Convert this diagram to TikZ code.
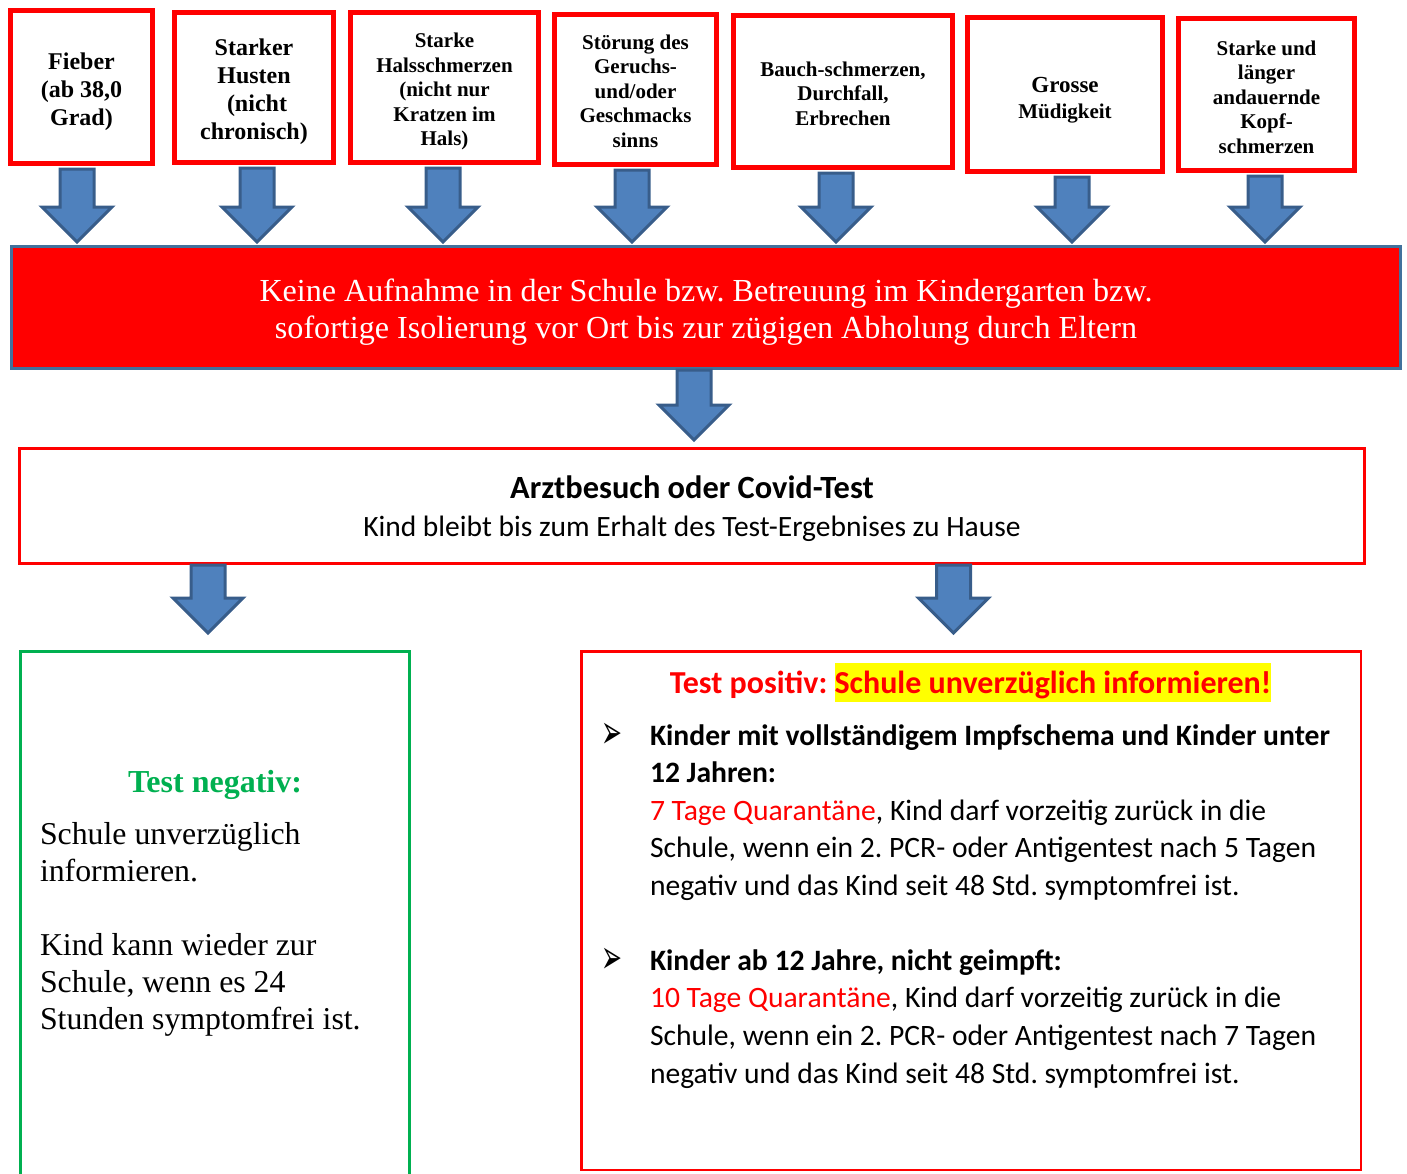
\documentclass[tikz,border=0pt]{standalone}
\usepackage{fontspec}
\usepackage{graphicx}
\setmainfont{Liberation Serif}
\newfontfamily\calfont{Carlito}
\newfontfamily\dvfont{DejaVu Sans}
\usetikzlibrary{calc}
\frenchspacing
\definecolor{boxred}{HTML}{FF0000}
\definecolor{arrowfill}{HTML}{4F81BD}
\definecolor{arrowdraw}{HTML}{385D8A}
\definecolor{bannerdraw}{HTML}{41719C}
\definecolor{boxgreen}{HTML}{00B050}
\definecolor{hlyellow}{HTML}{FFFF00}
\tikzset{
  symbox/.style={draw=boxred, line width=5pt, fill=white, inner sep=0pt},
  symtext/.style={align=center, inner sep=0pt, font=\fontsize{21}{24.5}\selectfont\bfseries},
  bigsym/.style={font=\fontsize{24}{28}\selectfont\bfseries},
  blockarrow/.style={fill=arrowfill, draw=arrowdraw, line width=3pt, line join=miter},
  plainbox/.style={inner sep=0pt},
  txt/.style={inner sep=0pt, outer sep=0pt},
  bullet/.style={txt, anchor=base west, font=\dvfont\fontsize{25}{25}\selectfont},
}
\newcommand\barrow[2]{%
  \draw[blockarrow] let \p1=(#1), \p2=(#2) in
    (\x1-17pt,\y1) -- (\x1-17pt,\y2+35pt) -- (\x1-35pt,\y2+35pt) -- (\x1,\y2)
    -- (\x1+35pt,\y2+35pt) -- (\x1+17pt,\y2+35pt) -- (\x1+17pt,\y1) -- cycle;}
\begin{document}
\begin{tikzpicture}[x=1pt,y=-1pt]
\useasboundingbox (0,0) rectangle (1407,1173);
% symptom boxes
\node[symbox, minimum width=142pt, minimum height=153pt] (f1) at (81.5,87) {};
\node[symbox, minimum width=159pt, minimum height=150pt] (f2) at (254,87.5) {};
\node[symbox, minimum width=188pt, minimum height=150pt] (f3) at (444.5,87.5) {};
\node[symbox, minimum width=162pt, minimum height=150pt] (f4) at (635.5,89.5) {};
\node[symbox, minimum width=219pt, minimum height=152pt] (f5) at (843,91.5) {};
\node[symbox, minimum width=195pt, minimum height=154pt] (f6) at (1065,94.5) {};
\node[symbox, minimum width=176pt, minimum height=152pt] (f7) at (1266.5,94.5) {};
\node[symtext, bigsym] (t1) at ([yshift=-5pt]f1.center) {Fieber\\(ab 38,0\\Grad)};
\node[symtext, bigsym] (t2) at ([yshift=-4pt]f2.center) {Starker\\Husten\\\ (nicht\\chronisch)};
\node[symtext] (t3) at ([yshift=-4pt]f3.center) {Starke\\Halsschmerzen\\(nicht nur\\Kratzen im\\Hals)};
\node[symtext] (t4) at ([yshift=-1.5pt]f4.center) {Störung des\\Geruchs-\\und/oder\\Geschmacks\\sinns};
\node[symtext] (t5) at ([yshift=-2pt]f5.center) {Bauch-schmerzen,\\Durchfall,\\Erbrechen};
\node[symtext, font=\fontsize{21}{26}\selectfont\bfseries] (t6) at ([yshift=-6pt]f6.center) {{\fontsize{23}{26}\selectfont Grosse}\\Müdigkeit};
\node[symtext] (t7) at ([yshift=-2.5pt]f7.center) {Starke und\\länger\\andauernde\\Kopf-\\schmerzen};
% banner
\node[plainbox, draw=bannerdraw, line width=3pt, fill=boxred, minimum width=1389pt, minimum height=122pt] (banner) at (706,307.5) {};
\node[txt, anchor=base, text=white] (bantext) at (706,301) {\parbox[t]{1300pt}{\centering\fontsize{32.1}{37}\selectfont Keine Aufnahme in der Schule bzw. Betreuung im Kindergarten bzw.\\ sofortige Isolierung vor Ort bis zur zügigen Abholung durch Eltern}};
% doctor box
\node[plainbox, draw=boxred, line width=3pt, minimum width=1345pt, minimum height=115pt] (arzt) at (692,506) {};
\node[txt, anchor=base] (arzttext) at (692,498) {\parbox[t]{1300pt}{\centering\calfont\fontsize{29.5}{38}\selectfont{\fontsize{32.4}{38}\selectfont\bfseries Arztbesuch oder Covid-Test}\\ Kind bleibt bis zum Erhalt des Test-Ergebnises zu Hause}};
% result boxes
\node[plainbox, draw=boxgreen, line width=3pt, minimum width=389pt, minimum height=532pt] (neg) at (215,917.5) {};
\node[plainbox, draw=boxred, line width=2.5pt, minimum width=779.5pt, minimum height=518.5pt] (pos) at (971,910.5) {};
% negative text
\node[txt, anchor=base, text=boxgreen, font=\fontsize{32}{37}\selectfont\bfseries] (negtitle) at (215,792) {Test negativ:};
\node[txt, anchor=base west] (negtext) at (40,844) {\parbox[t]{365pt}{\fontsize{31.8}{37}\selectfont Schule unverzüglich\\ informieren.\\[37pt] Kind kann wieder zur\\ Schule, wenn es 24\\ Stunden symptomfrei ist.}};
% positive text
\node[txt, anchor=base, text=boxred] (postitle) at (970.5,693) {\calfont\fontsize{32}{38}\selectfont\bfseries Test positiv: {\fboxsep=0pt\colorbox{hlyellow}{\rule[-9pt]{0pt}{39pt}Schule unverzüglich informieren!}}};
\node[bullet] (k1) at (601,748) {\scalebox{1.0}[1.9]{➢}};
\node[txt, anchor=base west] (pos1) at (650,745) {\parbox[t]{720pt}{\calfont\fontsize{29.6}{37.6}\selectfont\raggedright
\textbf{Kinder mit vollständigem Impfschema und Kinder unter}\\
\textbf{12 Jahren:}\\
\textcolor{boxred}{7 Tage Quarantäne}, Kind darf vorzeitig zurück in die\\
Schule, wenn ein 2. PCR- oder Antigentest nach 5 Tagen\\
negativ und das Kind seit 48 Std. symptomfrei ist.}};
\node[bullet] (k2) at (601,973) {\scalebox{1.0}[1.9]{➢}};
\node[txt, anchor=base west] (pos2) at (650,970) {\parbox[t]{720pt}{\calfont\fontsize{29.6}{37.8}\selectfont\raggedright
\textbf{Kinder ab 12 Jahre, nicht geimpft:}\\
\textcolor{boxred}{10 Tage Quarantäne}, Kind darf vorzeitig zurück in die\\
Schule, wenn ein 2. PCR- oder Antigentest nach 7 Tagen\\
negativ und das Kind seit 48 Std. symptomfrei ist.}};
% arrows
\barrow{[xshift=-4.5pt,yshift=-3pt]f1.south}{[yshift=3pt]banner.north}
\barrow{[xshift=3pt,yshift=-3pt]f2.south}{[yshift=3pt]banner.north}
\barrow{[xshift=-1.5pt,yshift=-3pt]f3.south}{[yshift=3pt]banner.north}
\barrow{[xshift=-3.5pt,yshift=-3pt]f4.south}{[yshift=3pt]banner.north}
\barrow{[xshift=-7pt,yshift=-3pt]f5.south}{[yshift=3pt]banner.north}
\barrow{[xshift=7pt,yshift=-3pt]f6.south}{[yshift=3pt]banner.north}
\barrow{[xshift=-1.5pt,yshift=-3pt]f7.south}{[yshift=3pt]banner.north}
\barrow{[xshift=-12pt]banner.south}{[yshift=7pt]arzt.north}
\barrow{$(neg.north |- arzt.south)+(-7,0)$}{[yshift=17pt]neg.north}
\barrow{$(pos.north |- arzt.south)+(-17.5,0)$}{[yshift=17pt]pos.north}
\end{tikzpicture}
\end{document}
